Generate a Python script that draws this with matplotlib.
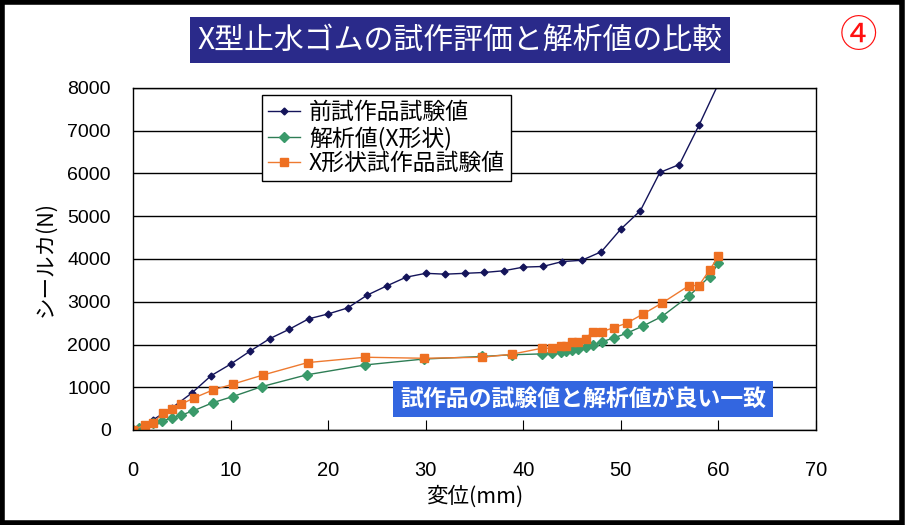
import numpy as np
import matplotlib
matplotlib.use('Agg')
import matplotlib.pyplot as plt
from matplotlib.patches import Rectangle

plt.rcParams['font.family'] = ['Liberation Sans', 'Noto Sans CJK JP', 'DejaVu Sans']
jp = ['Noto Sans CJK JP', 'DejaVu Sans']

# 前試作品試験値
x_prev = [0, 2, 4, 6, 8, 10, 12, 14, 16, 18, 20, 22, 24, 26, 28, 30, 32, 34, 36,
          38, 40, 42, 44, 46, 48, 50, 52, 54, 56, 58, 60]
y_prev = [0, 230, 520, 860, 1270, 1540, 1845, 2135, 2355, 2600, 2715, 2855, 3155,
          3370, 3575, 3665, 3645, 3665, 3685, 3725, 3810, 3825, 3940, 3970, 4170,
          4700, 5130, 6025, 6210, 7125, 8100]

# 解析値(X形状)
x_ana = [0, 0.6, 1.2, 2.1, 3.0, 4.0, 4.9, 6.2, 8.2, 10.2, 13.2, 17.8, 23.8, 29.8,
         35.8, 38.8, 41.9, 42.9, 43.9, 44.4, 45.0, 45.6, 46.4, 47.1, 48.1, 49.3,
         50.6, 52.3, 54.2, 57.0, 59.1, 60.0]
y_ana = [0, 40, 100, 157, 218, 274, 344, 452, 640, 781, 1015, 1290, 1522, 1660,
         1720, 1760, 1780, 1810, 1834, 1850, 1873, 1890, 1951, 1990, 2068, 2155,
         2264, 2436, 2654, 3138, 3590, 3903]

# X形状試作品試験値
x_new = [0, 1.2, 2.1, 3.1, 4.0, 4.9, 6.3, 8.2, 10.3, 13.3, 17.9, 23.8, 29.8, 35.8,
         38.8, 41.9, 42.9, 43.9, 44.4, 45.0, 45.6, 46.4, 47.1, 48.1, 49.3, 50.6,
         52.3, 54.2, 57.0, 58.0, 59.1, 60.0]
y_new = [0, 117, 171, 405, 484, 600, 755, 937, 1077, 1285, 1577, 1702, 1678, 1702,
         1772, 1912, 1912, 1974, 1974, 2068, 2068, 2138, 2302, 2302, 2396, 2499,
         2717, 2967, 3379, 3379, 3747, 4059]

labels = ['前試作品試験値', '解析値(X形状)', 'X形状試作品試験値']

fig = plt.figure(figsize=(9.05, 5.25), dpi=100)
ax = fig.add_axes([133/905, 1-430/525, (816-133)/905, (430-88)/525])

ax.plot(x_prev, y_prev, color='#14145A', lw=1, marker='D', ms=3.5, label=labels[0])
ax.plot(x_ana, y_ana, color='#2E7D55', lw=1, marker='D', ms=5,
        mfc='#3A9A6A', mec='#3A9A6A', label=labels[1])
ax.plot(x_new, y_new, color='#EE7A30', lw=1, marker='s', ms=6,
        mfc='#EE7022', mec='#EE7022', label=labels[2])

ax.set_xlim(0, 70)
ax.set_ylim(0, 8000)
ax.set_xticks(np.arange(0, 71, 10))
ax.set_yticks(np.arange(0, 8001, 1000))
ax.yaxis.grid(True, color='black', lw=1)
ax.set_axisbelow(True)
ax.tick_params(axis='x', direction='in', length=7, labelsize=14.5, pad=22)
ax.tick_params(axis='y', length=0, labelsize=14, pad=16)
for s in ax.spines.values():
    s.set_linewidth(1)
ax.set_xlabel('変位(mm)', family=jp, fontsize=15.5, labelpad=4)
ax.set_ylabel('シールカ(N)', family=jp, fontsize=15.5, labelpad=8)

leg = ax.legend(loc='upper left', bbox_to_anchor=(262/905, 1-95/525),
                bbox_transform=fig.transFigure, prop={'family': jp, 'size': 16.5},
                frameon=True, fancybox=False, edgecolor='black', framealpha=1,
                borderaxespad=0, handlelength=1.4, handletextpad=0.4,
                borderpad=0.25, labelspacing=0.1)
leg.get_frame().set_linewidth(1)

# 注記
ax.text(583/905, 1-399/525, '試作品の試験値と解析値が良い一致', transform=fig.transFigure,
        ha='center', va='center', color='white', fontsize=16.5, fontweight='bold',
        family=jp, bbox=dict(boxstyle='square,pad=0.3', fc='#3366E0', ec='none'))

# タイトル
fig.text(460/905, 1-40/525, 'X型止水ゴムの試作評価と解析値の比較', ha='center', va='center',
         color='white', fontsize=21.5, family=jp,
         bbox=dict(boxstyle='square,pad=0.25', fc='#2A2A8A', ec='none'))
fig.text(858/905, 1-36/525, '④', ha='center', va='center', color='#FF1010',
         fontsize=27, family=jp)

fig.patches.append(Rectangle((0.002, 0.003), 0.995, 0.994, transform=fig.transFigure,
                             fill=False, ec='black', lw=4))

fig.savefig('out.png', dpi=100)
